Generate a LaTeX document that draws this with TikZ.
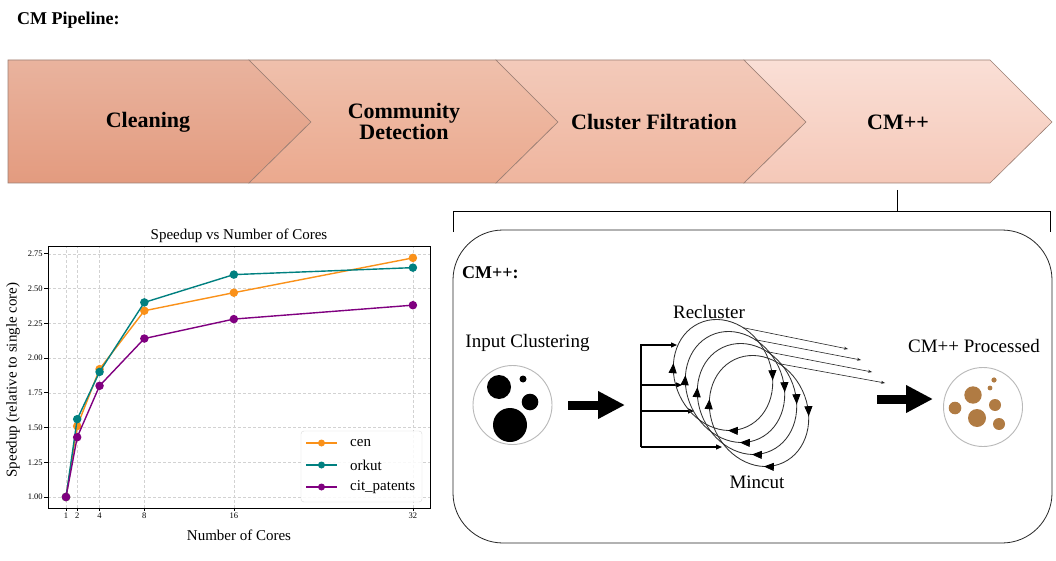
\documentclass[tikz,border=0pt]{standalone}
\usepackage{fontspec}
\setmainfont{Liberation Serif}
\usetikzlibrary{arrows.meta,decorations.markings,shapes.geometric}
\definecolor{chAa}{HTML}{E9B39E}
\definecolor{chAb}{HTML}{E39B7F}
\definecolor{chBa}{HTML}{EFC0AC}
\definecolor{chBb}{HTML}{EBA98E}
\definecolor{chCa}{HTML}{F3CABA}
\definecolor{chCb}{HTML}{EFB59E}
\definecolor{chDa}{HTML}{FADFD6}
\definecolor{chDb}{HTML}{F5C8B8}
\definecolor{chedge}{HTML}{9C7F74}
\definecolor{brownblob}{HTML}{B07B43}
\definecolor{cencol}{RGB}{250,145,25}
\definecolor{orkcol}{RGB}{0,128,128}
\definecolor{citcol}{RGB}{128,0,128}
\begin{document}
\begin{tikzpicture}[x=1pt,y=1pt,
  chev/.style={draw=chedge, line width=0.6pt},
  chevtext/.style={font=\fontsize{22}{21}\selectfont\bfseries, align=center, inner sep=0pt},
  headtext/.style={font=\fontsize{18}{18}\selectfont\bfseries, anchor=west, inner sep=0pt},
  lbltext/.style={font=\fontsize{19}{19}\selectfont, inner sep=0pt},
  bracket/.style={line width=0.8pt, black},
  clcircle/.style={circle, draw=gray!55, line width=0.9pt, minimum size=79pt, inner sep=0pt},
  bigarrow/.style={line width=9pt, -{Triangle[length=27pt,width=26pt]}},
  feed/.style={line width=1.2pt, -{Triangle[length=6pt,width=5pt]}},
  ring/.style={draw=black!80, line width=0.85pt, postaction={decorate},
    decoration={markings,
      mark=at position 0.08 with {\arrow[black]{Triangle[length=10pt,width=8pt]}},
      mark=at position 0.31 with {\arrow[black]{Triangle[length=10pt,width=8pt]}},
      mark=at position 0.60 with {\arrow[black]{Triangle[length=10pt,width=8pt]}}}},
  outline/.style={draw=black!85, line width=0.6pt, -{Stealth[length=4pt,width=3pt]}},
  gridl/.style={gray!35, line width=0.5pt, dash pattern=on 3pt off 2pt},
  ticklab/.style={font=\fontsize{8.5}{8.5}\selectfont, inner sep=1.5pt},
  axlab/.style={font=\fontsize{15}{15}\selectfont, inner sep=0pt},
  series/.style={#1, line width=1.4pt, mark=*, mark size=3.5pt, mark options={fill=#1, draw=#1, solid}},
]
\useasboundingbox (0,0) rectangle (1056,-561);
\fill[white] (0,0) rectangle (1056,-561);

% ---------- title
\node[headtext] (pipetitle) at (17,-20) {CM Pipeline:};

% ---------- chevrons
\shadedraw[chev, top color=chAa, bottom color=chAb]
  (8,-60) -- (249,-60) -- (311,-122) -- (249,-183) -- (8,-183) -- cycle;
\shadedraw[chev, top color=chBa, bottom color=chBb]
  (249,-60) -- (496,-60) -- (558,-122) -- (496,-183) -- (249,-183) -- (311,-122) -- cycle;
\shadedraw[chev, top color=chCa, bottom color=chCb]
  (496,-60) -- (744,-60) -- (806,-122) -- (744,-183) -- (496,-183) -- (558,-122) -- cycle;
\shadedraw[chev, top color=chDa, bottom color=chDb]
  (744,-60) -- (990,-60) -- (1052,-122) -- (990,-183) -- (744,-183) -- (806,-122) -- cycle;
\node[chevtext] (cleaning) at (148,-122) {Cleaning};
\node[chevtext] (community) at (404,-121.5) {Community\\Detection};
\node[chevtext] (filtration) at (654,-122) {Cluster Filtration};
\node[chevtext] (cmpp) at (898,-122) {CM++};

% ---------- bracket
\coordinate (cmtop) at (897,-190);
\coordinate (cmjoin) at (897,-211);
\coordinate (bl) at (453,-232);
\coordinate (br) at (1050,-232);
\draw[bracket] (cmtop) -- (cmjoin);
\draw[bracket] (bl) -- (bl |- cmjoin) -- (br |- cmjoin) -- (br);

% ---------- CM++ box
\node[draw=black!85, line width=0.8pt, rounded corners=50pt, minimum width=599pt, minimum height=313pt, inner sep=0pt] (cmbox) at (752.5,-386.5) {};
\node[headtext] (cmhead) at (462,-273) {CM++:};

\node[lbltext] (inlabel) at (527.5,-343) {Input Clustering};
\node[lbltext] (outlabel) at (974,-346) {CM++ Processed};
\node[lbltext] (recluster) at (709,-312) {Recluster};
\node[lbltext] (mincut) at (757,-482) {Mincut};

% input clustering
\node[clcircle] (incircle) at (512.5,-405) {};
\fill (499,-387) circle[radius=12];
\fill (523,-379) circle[radius=3.5];
\fill (530,-402) circle[radius=8.3];
\fill (510,-425) circle[radius=17];

% big arrow 1
\coordinate (aonestart) at (568,-405);
\coordinate (aoneend) at (625,-405);
\draw[bigarrow] (aonestart) -- (aoneend);

% feed bracket
\coordinate (fsa) at (641,-345);
\coordinate (fsb) at (641,-385);
\coordinate (fsc) at (641,-411);
\coordinate (fsd) at (641,-447);
\coordinate (fea) at (677,-345);
\coordinate (feb) at (682,-385);
\coordinate (fec) at (694,-411);
\coordinate (fed) at (722,-447);
\draw[line width=1.2pt, -{Triangle[length=6pt,width=5pt]}] (fsd) -- (fsa) -- (fea);
\draw[feed] (fsd) -- (fed);
\draw[feed] (fsb) -- (feb);
\draw[feed] (fsc) -- (fec);

% rings
\foreach \i [evaluate=\i as \cxx using 723+12*(\i-1), evaluate=\i as \cyy using -375-12*(\i-1)] in {1,2,3,4} {
  \begin{scope}[shift={(\cxx,\cyy)}, rotate=25]
    \draw[ring] (48,0) arc[start angle=0,end angle=-360,x radius=48,y radius=57];
    \coordinate (rt\i) at (37:48 and 57);
  \end{scope}
}
\foreach \i/\ex/\ey in {1/848/349, 2/861/360, 3/872/372, 4/885/383} {
  \coordinate (re\i) at (\ex,-\ey);
  \draw[outline] (rt\i) -- (re\i);
}

% big arrow 2
\coordinate (atwostart) at (877,-399);
\coordinate (atwoend) at (933,-399);
\draw[bigarrow] (atwostart) -- (atwoend);

% output clustering
\node[clcircle] (outcircle) at (983,-407) {};
\fill[brownblob] (994,-380) circle[radius=2.6];
\fill[brownblob] (990,-388) circle[radius=2.4];
\fill[brownblob] (973,-395) circle[radius=8.7];
\fill[brownblob] (955,-408) circle[radius=6.3];
\fill[brownblob] (995,-405) circle[radius=6];
\fill[brownblob] (977,-418) circle[radius=9];
\fill[brownblob] (999,-424) circle[radius=6];

% ---------- chart
\node[axlab] (ctitle) at (239,-236) {Speedup vs Number of Cores};
\node[axlab] (cxlab) at (239,-535) {Number of Cores};
\node[axlab, rotate=90] (cylab) at (13,-380) {Speedup (relative to single core)};
\begin{scope}[shift={(54.81pt,-636pt)}, x=11.19pt, y=139pt]
  \foreach \c in {1,2,4,8,16,32} {\draw[gridl] (\c,0.921) -- (\c,2.806);}
  \foreach \v [count=\k] in {1.00,1.25,1.50,1.75,2.00,2.25,2.50,2.75} {
    \draw[gridl] (-0.609,\v) -- (33.53,\v);
    \draw[line width=0.7pt] (-0.609,\v) -- ++(-3.5pt,0pt) node[left, ticklab] (yt\k) {\v};
  }
  \foreach \c [count=\k] in {1,2,4,8,16,32} {
    \draw[line width=0.7pt] (\c,0.921) -- ++(0pt,-3.5pt) node[below, ticklab] (xt\k) {\c};
  }
  \draw[series=cencol] plot coordinates {(1,1.00) (2,1.51) (4,1.92) (8,2.34) (16,2.47) (32,2.72)};
  \draw[series=orkcol] plot coordinates {(1,1.00) (2,1.56) (4,1.90) (8,2.40) (16,2.60) (32,2.65)};
  \draw[series=citcol] plot coordinates {(1,1.00) (2,1.43) (4,1.80) (8,2.14) (16,2.28) (32,2.38)};
  \draw[line width=0.8pt] (-0.609,0.921) rectangle (33.53,2.806);
\end{scope}
\node[draw=gray!30, fill=white, fill opacity=0.85, rounded corners=3pt, minimum width=121pt, minimum height=71pt, inner sep=0pt] (legend) at (361.5,-466.5) {};
\foreach \y/\col/\name [count=\k] in {443/cencol/cen, 465/orkcol/orkut, 487/citcol/cit\_patents} {
  \draw[\col, line width=1.4pt] (306,-\y) -- (337,-\y);
  \fill[\col] (321.5,-\y) circle[radius=3.5];
  \node[axlab, anchor=west] (leg\k) at (350,-\y) {\name};
}
\end{tikzpicture}
\end{document}
